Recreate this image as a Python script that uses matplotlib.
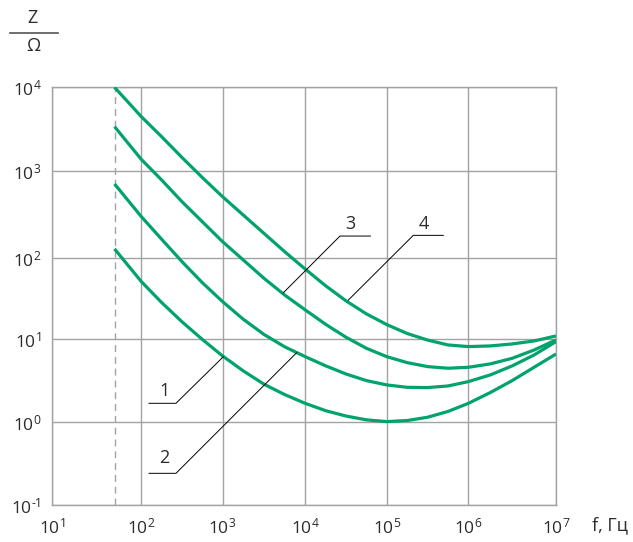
import numpy as np
import matplotlib
matplotlib.use("Agg")
import matplotlib.pyplot as plt
from matplotlib.lines import Line2D
from matplotlib.ticker import FixedLocator, NullLocator

plt.rcParams['font.family'] = ['Open Sans', 'DejaVu Sans']
plt.rcParams['mathtext.fontset'] = 'custom'
plt.rcParams['mathtext.rm'] = 'Open Sans'
plt.rcParams['mathtext.it'] = 'Open Sans'
plt.rcParams['mathtext.default'] = 'regular'

# data (quarter-decade steps)
freq = [50, 100, 178, 316, 562, 1000, 1778, 3162, 5623, 1e4, 17783, 31623,
        56234, 1e5, 177828, 316228, 562341, 1e6, 1778279, 3162278, 5623413, 1e7]
z1 = [128, 51.5, 28.4, 16.5, 10.0, 6.31, 4.17, 2.88, 2.16, 1.69, 1.38, 1.19,
      1.07, 1.02, 1.05, 1.15, 1.35, 1.69, 2.28, 3.18, 4.60, 6.65]
z2 = [710, 300, 165, 91.0, 50.1, 29.2, 17.7, 11.5, 8.13, 6.17, 4.79, 3.82,
      3.18, 2.82, 2.64, 2.62, 2.74, 3.09, 3.72, 4.78, 6.47, 9.38]
z3 = [3390, 1377, 789, 446, 263, 155, 95.3, 56.6, 35.2, 23.0, 15.3, 10.6,
      7.80, 6.18, 5.24, 4.69, 4.48, 4.60, 5.05, 5.90, 7.43, 9.82]
z4 = [10000, 4460, 2570, 1455, 845, 508, 313, 193, 119, 73.3, 45.7, 29.8,
      20.6, 15.2, 11.8, 9.8, 8.55, 8.17, 8.32, 8.79, 9.55, 11.0]
curve_labels = ['1', '2', '3', '4']
x_decades = [1, 2, 3, 4, 5, 6, 7]
y_decades = [-1, 0, 1, 2, 3, 4]
f_min = 50

# the drawing is not strictly to scale: decades differ a little in length
x_pos = [0, 88.9, 170.1, 252.9, 334.3, 415.9, 503.6]
y_pos = [0, 82.7, 165.7, 246.8, 334.0, 417.7]

def make_scale(decs, pos):
    def fwd(v):
        v = np.clip(np.asarray(v, dtype=float), 1e-300, None)
        return np.interp(np.log10(v), decs, pos, left=-1e3, right=1e4)

    def inv(p):
        return 10 ** np.interp(p, pos, decs)
    return fwd, inv

green = '#00a36c'
grey = '#a3a3a3'
txt = '#2b2b2b'

fig = plt.figure(figsize=(6.33, 5.42), dpi=100)
ax = fig.add_axes([52.4 / 633, 1 - 505 / 542, (556 - 52.4) / 633, (505 - 87.3) / 542])
ax.set_xscale('function', functions=make_scale(x_decades, x_pos))
ax.set_yscale('function', functions=make_scale(y_decades, y_pos))
ax.set_xlim(10, 1e7)
ax.set_ylim(0.1, 1e4)

for z in [z1, z2, z3, z4]:
    ax.plot(freq, z, color=green, lw=2.3, solid_capstyle='butt',
            solid_joinstyle='round', zorder=3)

ax.plot([f_min, f_min], [0.1, 1e4], color=grey, lw=1.0, dashes=(5, 3.5), zorder=2)

ax.xaxis.set_major_locator(FixedLocator([10.0 ** d for d in x_decades]))
ax.xaxis.set_minor_locator(NullLocator())
ax.set_xticklabels(['$10^{%d}$' % d for d in x_decades])
ax.yaxis.set_major_locator(FixedLocator([10.0 ** d for d in y_decades]))
ax.yaxis.set_minor_locator(NullLocator())
ax.set_yticklabels(['$10^{\\text{%d}}$' % d for d in y_decades])
ax.tick_params(length=0, labelsize=12.5, colors=txt)
ax.tick_params(axis='x', pad=9)
ax.tick_params(axis='y', pad=8)
ax.grid(True, color=grey, lw=1.0)
for s in ax.spines.values():
    s.set_color(grey)
    s.set_linewidth(1.0)

# leader lines: (text pos, underline start, underline end, point on curve), log10 units
leaders = [
    ((2.28, 0.317), (2.095, 0.229), (2.427, 0.229), (3.01, 0.79)),
    ((2.28, -0.49), (2.095, -0.617), (2.427, -0.617), (3.896, 0.839)),
    ((4.556, 2.335), (4.80, 2.254), (4.426, 2.254), (3.734, 1.573)),
    ((5.459, 2.335), (5.694, 2.262), (5.326, 2.262), (4.528, 1.483)),
]
for lab, (tp, a, b, c) in zip(curve_labels, leaders):
    xs = [10 ** a[0], 10 ** b[0], 10 ** c[0]]
    ys = [10 ** a[1], 10 ** b[1], 10 ** c[1]]
    ax.plot(xs, ys, color='black', lw=0.7, zorder=4)
    ax.text(10 ** tp[0], 10 ** tp[1], lab, ha='center', va='baseline',
            fontsize=13, color=txt, zorder=5)

# axis titles
fig.text(33 / 633, 1 - 18 / 542, 'Z', ha='center', va='center', fontsize=13, color=txt)
fig.add_artist(Line2D([10 / 633, 58 / 633], [1 - 33 / 542, 1 - 33 / 542],
                      color='#555555', lw=1.2, transform=fig.transFigure))
fig.text(33 / 633, 1 - 46 / 542, 'Ω', ha='center', va='center', fontsize=13, color=txt)
fig.text(592 / 633, 1 - 525 / 542, 'f, Гц', ha='left', va='center', fontsize=13, color=txt)

fig.savefig('out.png', dpi=100)
